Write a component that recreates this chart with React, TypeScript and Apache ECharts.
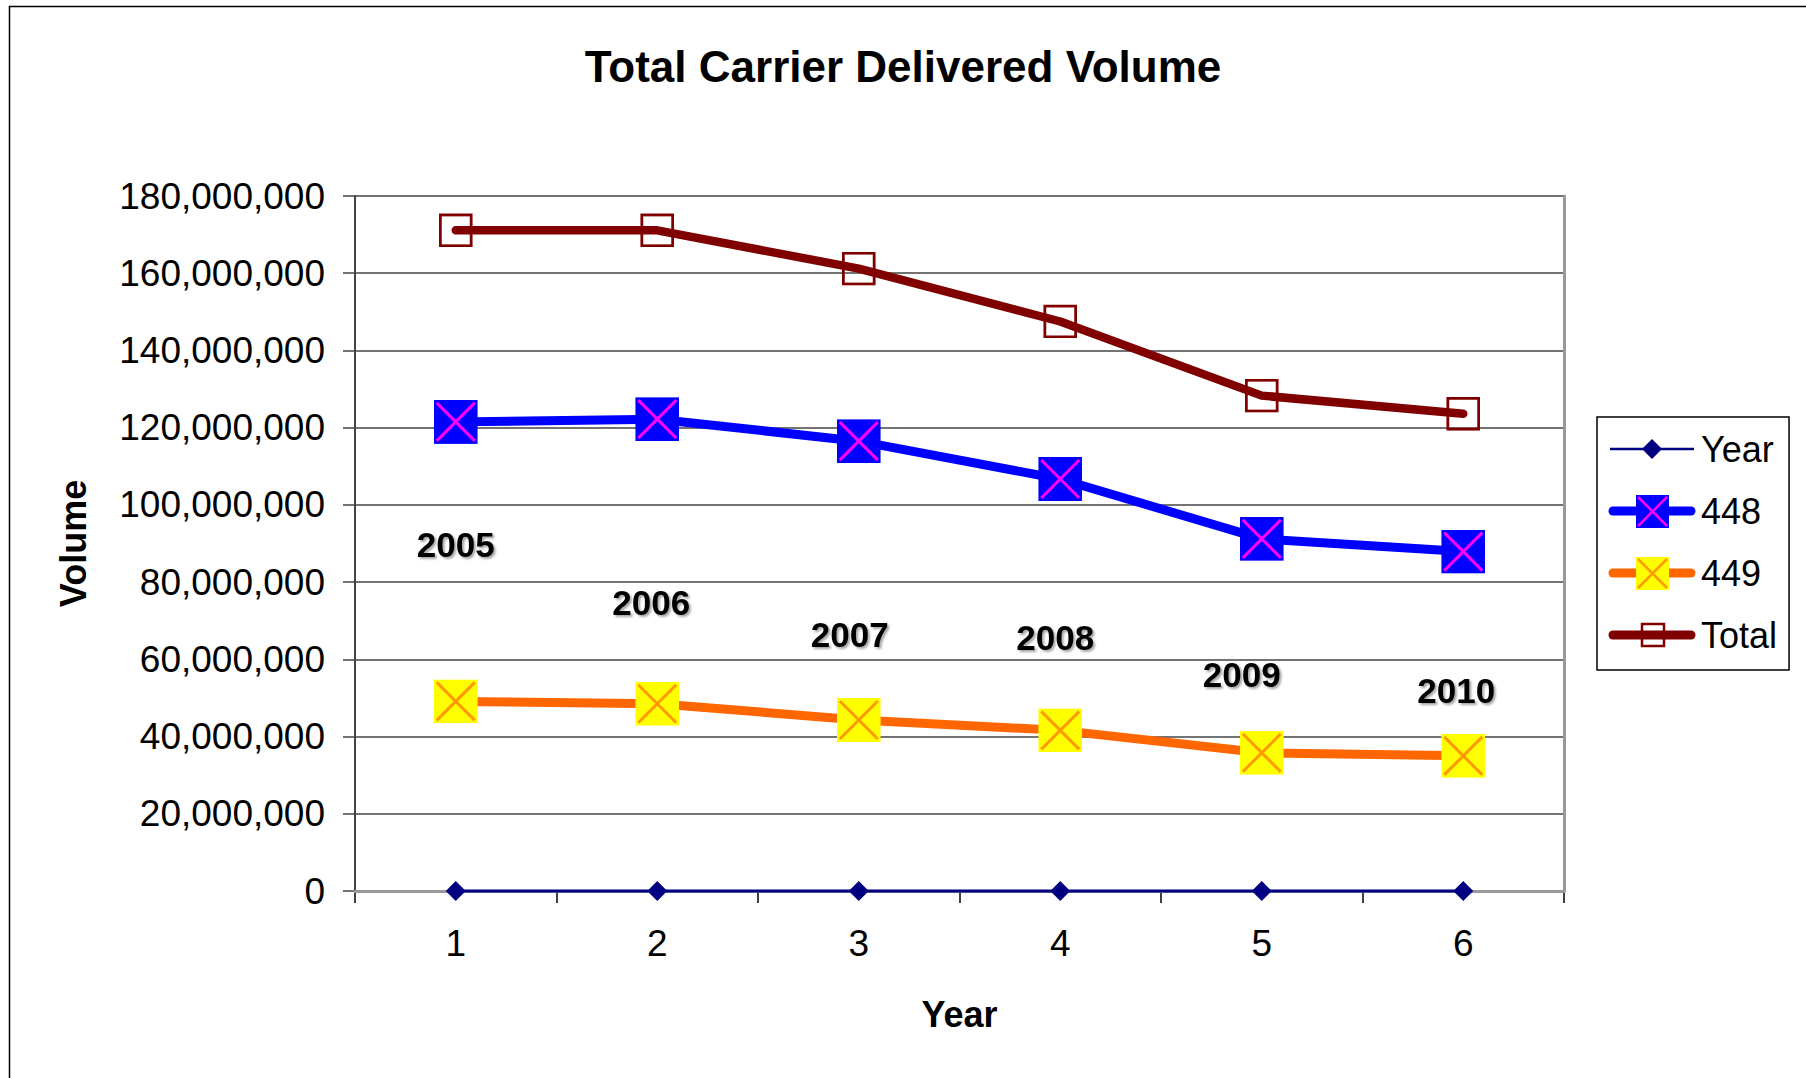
import React, { useEffect, useRef } from "react";
import * as echarts from "echarts";

// ---------- data ----------
const categories = ["1", "2", "3", "4", "5", "6"];
const yearValues = [2005, 2006, 2007, 2008, 2009, 2010];
const values448 = [121.5e6, 122.2e6, 116.5e6, 106.7e6, 91.2e6, 87.9e6];
const values449 = [49.1e6, 48.5e6, 44.3e6, 41.6e6, 35.8e6, 35.0e6];
const valuesTotal = [171.1e6, 171.1e6, 161.2e6, 147.5e6, 128.3e6, 123.6e6];
const yMin = 0;
const yMax = 180e6;
const yStep = 20e6;

// label placement (dragged data labels in the original)
const yearLabelOffsets = [
  [0, -346],
  [-6, -288],
  [-9, -256],
  [-5, -253],
  [-20, -216],
  [-7, -200],
];

const FONT = "'Liberation Sans', Arial, sans-serif";

const svgUri = (body: string, w: number, h: number) =>
  "image://data:image/svg+xml;charset=utf-8," +
  encodeURIComponent(
    `<svg xmlns="http://www.w3.org/2000/svg" width="${w}" height="${h}" viewBox="0 0 ${w} ${h}">${body}</svg>`
  );

const marker448 = svgUri(
  `<rect width="44" height="44" fill="#0000FF"/><path d="M3 3L41 41M41 3L3 41" stroke="#FF00FF" stroke-width="3"/>`,
  44,
  44
);
const marker449 = svgUri(
  `<rect width="44" height="44" fill="#FFFF00"/><path d="M3 3L41 41M41 3L3 41" stroke="#FF9900" stroke-width="3"/>`,
  44,
  44
);
const markerTotal = svgUri(
  `<rect x="1.5" y="1.5" width="31" height="31" fill="none" stroke="#800000" stroke-width="3"/>`,
  34,
  34
);

const legendYear = svgUri(
  `<line x1="2" y1="20" x2="86" y2="20" stroke="#000080" stroke-width="2.5"/><path d="M44 10L54 20L44 30L34 20Z" fill="#000080"/>`,
  88,
  40
);
const legend448 = svgUri(
  `<line x1="5" y1="20" x2="83" y2="20" stroke="#0000FF" stroke-width="9" stroke-linecap="round"/><rect x="28" y="4" width="33" height="33" fill="#0000FF"/><path d="M30 6L59 35M59 6L30 35" stroke="#FF00FF" stroke-width="2.5"/>`,
  88,
  40
);
const legend449 = svgUri(
  `<line x1="5" y1="20" x2="83" y2="20" stroke="#FF6600" stroke-width="9" stroke-linecap="round"/><rect x="28" y="4" width="33" height="33" fill="#FFFF00"/><path d="M30 6L59 35M59 6L30 35" stroke="#FF9900" stroke-width="2.5"/>`,
  88,
  40
);
const legendTotal = svgUri(
  `<line x1="5" y1="20" x2="83" y2="20" stroke="#800000" stroke-width="9" stroke-linecap="round"/><rect x="34" y="9" width="22" height="22" fill="none" stroke="#800000" stroke-width="2.5"/>`,
  88,
  40
);

export default function App() {
  const ref = useRef<HTMLDivElement>(null);

  useEffect(() => {
    if (!ref.current) return;
    const chart = echarts.init(ref.current, undefined, { renderer: "svg" });

    const option: any = {
      animation: false,
      backgroundColor: "#ffffff",
      textStyle: { fontFamily: FONT },
      title: {
        text: "Total Carrier Delivered Volume",
        left: "center",
        top: 39,
        textStyle: { fontFamily: FONT, fontSize: 44, fontWeight: "bold", color: "#000" },
      },
      graphic: [
        {
          type: "rect",
          silent: true,
          shape: { x: 9.5, y: 6.5, width: 1900, height: 1200 },
          style: { fill: "none", stroke: "#000", lineWidth: 1.5 },
        },
      ],
      legend: {
        orient: "vertical",
        left: 1597,
        top: 417,
        padding: [12, 12, 15, 11],
        itemGap: 22,
        itemWidth: 88,
        itemHeight: 40,
        borderColor: "#000",
        borderWidth: 1.5,
        backgroundColor: "#fff",
        textStyle: { fontFamily: FONT, fontSize: 36, color: "#000" },
        data: [
          { name: "Year", icon: legendYear },
          { name: "448", icon: legend448 },
          { name: "449", icon: legend449 },
          { name: "Total", icon: legendTotal },
        ],
      },
      grid: { left: 355, top: 196, right: 242, bottom: 187, containLabel: false },
      xAxis: [
        {
          type: "category",
          data: categories,
          boundaryGap: true,
          axisLine: { lineStyle: { color: "#000", width: 2 } },
          axisTick: { show: true, inside: false, length: 12, lineStyle: { color: "#000", width: 1.5 } },
          axisLabel: { fontFamily: FONT, fontSize: 37, color: "#000", margin: 34 },
          splitLine: { show: false },
          name: "Year",
          nameLocation: "middle",
          nameGap: 105,
          nameTextStyle: { fontFamily: FONT, fontSize: 36, fontWeight: "bold", color: "#000" },
        },
        {
          type: "category",
          data: categories,
          position: "top",
          z: 3,
          axisLine: { show: true, lineStyle: { color: "#999", width: 3 } },
          axisTick: { show: false },
          axisLabel: { show: false },
          splitLine: { show: false },
        },
      ],
      yAxis: [
        {
          type: "value",
          min: yMin,
          max: yMax,
          interval: yStep,
          axisLine: { show: true, lineStyle: { color: "#444", width: 2 } },
          axisTick: { show: true, inside: false, length: 12, lineStyle: { color: "#444", width: 1.5 } },
          axisLabel: {
            fontFamily: FONT,
            fontSize: 37,
            color: "#000",
            margin: 30,
            formatter: (v: number) => v.toLocaleString("en-US"),
          },
          splitLine: { show: true, lineStyle: { color: "#444", width: 1.5 } },
          name: "Volume",
          nameLocation: "middle",
          nameRotate: 90,
          nameGap: 264,
          nameTextStyle: { fontFamily: FONT, fontSize: 36, fontWeight: "bold", color: "#000" },
        },
        {
          type: "value",
          position: "right",
          min: yMin,
          max: yMax,
          interval: yStep,
          z: 3,
          axisLine: { show: true, lineStyle: { color: "#999", width: 3 } },
          axisTick: { show: false },
          axisLabel: { show: false },
          splitLine: { show: false },
        },
      ],
      series: [
        {
          name: "Year",
          type: "line",
          clip: false,
          z: 4,
          data: yearValues.map((v, i) => ({ value: v, label: { offset: yearLabelOffsets[i] } })),
          symbol: "diamond",
          symbolSize: 20,
          itemStyle: { color: "#000080" },
          lineStyle: { color: "#000080", width: 3 },
          label: {
            show: true,
            position: "inside",
            formatter: "{c}",
            fontFamily: FONT,
            fontSize: 35,
            fontWeight: "bold",
            color: "#000",
            textShadowColor: "rgba(0,0,0,0.35)",
            textShadowBlur: 2,
            textShadowOffsetX: 2,
            textShadowOffsetY: 2,
          },
        },
        {
          name: "448",
          type: "line",
          clip: false,
          z: 5,
          data: values448,
          symbol: marker448,
          symbolSize: 44,
          itemStyle: { color: "#0000FF" },
          lineStyle: { color: "#0000FF", width: 9, cap: "round", join: "round" },
        },
        {
          name: "449",
          type: "line",
          clip: false,
          z: 5,
          data: values449,
          symbol: marker449,
          symbolSize: 44,
          itemStyle: { color: "#FFFF00" },
          lineStyle: { color: "#FF6600", width: 9, cap: "round", join: "round" },
        },
        {
          name: "Total",
          type: "line",
          clip: false,
          z: 5,
          data: valuesTotal,
          symbol: markerTotal,
          symbolSize: 34,
          itemStyle: { color: "#800000" },
          lineStyle: { color: "#800000", width: 8.5, cap: "round", join: "round" },
        },
      ],
    };

    chart.setOption(option);
    return () => {
      chart.dispose();
    };
  }, []);

  return (
    <div
      ref={ref}
      style={{ position: "absolute", left: 0, top: 0, width: 1806, height: 1078, background: "#fff" }}
    />
  );
}
